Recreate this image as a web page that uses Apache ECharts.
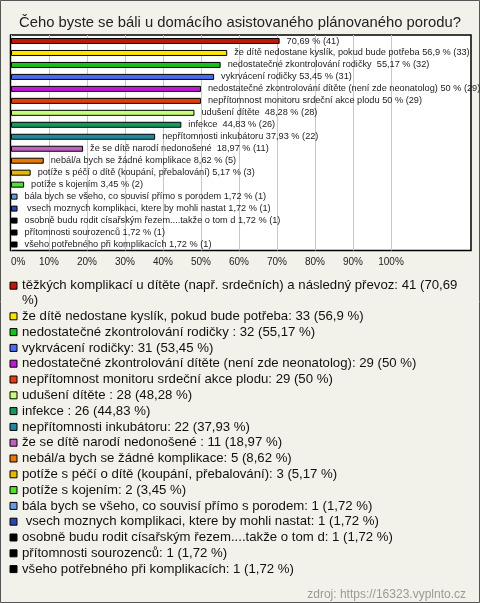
<!DOCTYPE html>
<html><head><meta charset="utf-8">
<script src="https://cdn.jsdelivr.net/npm/echarts@6/dist/echarts.min.js"></script>
<style>html,body{margin:0;padding:0;background:#f3f2ea}#c{width:480px;height:603px}</style>
</head><body><div id="c"></div>
<script>
const titleText = "Čeho byste se báli u domácího asistovaného plánovaného porodu?";
const sourceText = "zdroj: https://16323.vyplnto.cz";
const categories = [
  "těžkých komplikací u dítěte (např. srdečních) a následný převoz",
  "že dítě nedostane kyslík, pokud bude potřeba",
  "nedostatečné zkontrolování rodičky ",
  "vykrvácení rodičky",
  "nedostatečné zkontrolování dítěte (není zde neonatolog)",
  "nepřítomnost monitoru srdeční akce plodu",
  "udušení dítěte ",
  "infekce ",
  "nepřítomnosti inkubátoru",
  "že se dítě narodí nedonošené ",
  "nebál/a bych se žádné komplikace",
  "potíže s péčí o dítě (koupání, přebalování)",
  "potíže s kojením",
  "bála bych se všeho, co souvisí přímo s porodem",
  " vsech moznych komplikaci, ktere by mohli nastat",
  "osobně budu rodit císařským řezem....takže o tom d",
  "přítomnosti sourozenců",
  "všeho potřebného při komplikacích"
];
const barNames = [
  "",
  "že dítě nedostane kyslík, pokud bude potřeba",
  "nedostatečné zkontrolování rodičky ",
  "vykrvácení rodičky",
  "nedostatečné zkontrolování dítěte (není zde neonatolog)",
  "nepřítomnost monitoru srdeční akce plodu",
  "udušení dítěte ",
  "infekce ",
  "nepřítomnosti inkubátoru",
  "že se dítě narodí nedonošené ",
  "nebál/a bych se žádné komplikace",
  "potíže s péčí o dítě (koupání, přebalování)",
  "potíže s kojením",
  "bála bych se všeho, co souvisí přímo s porodem",
  " vsech moznych komplikaci, ktere by mohli nastat",
  "osobně budu rodit císařským řezem....takže o tom d",
  "přítomnosti sourozenců",
  "všeho potřebného při komplikacích"
];
const counts = [41,33,32,31,29,29,28,26,22,11,5,3,2,1,1,1,1,1];
const percents = [70.69,56.9,55.17,53.45,50,50,48.28,44.83,37.93,18.97,8.62,5.17,3.45,1.72,1.72,1.72,1.72,1.72];
const colors = ["#c01808","#ffe400","#18c018","#4a6cf0","#c018d8","#e04008","#c8ff78","#189860","#208898","#c060c0","#e87808","#e8b800","#50e030","#6898e0","#2848b0","#000000","#000000","#000000"];
const xTicks = [0,10,20,30,40,50,60,70,80,90,100];

const pct = p => String(p).replace('.', ',');
const legendName = i => categories[i] + ': ' + counts[i] + ' (' + pct(percents[i]) + ' %)';
const barLabel = i => (barNames[i] ? barNames[i] + ' ' : '') + pct(percents[i]) + ' % (' + counts[i] + ')';
const firstLegend = legendName(0);

const series = categories.map((c, i) => ({
  type: 'bar',
  name: legendName(i),
  stack: 'all',
  barWidth: 6,
  silent: true,
  data: categories.map((_, j) => j === i ? percents[i] : '-'),
  itemStyle: { color: colors[i], borderColor: '#000', borderWidth: 1 },
  label: {
    show: true, position: 'right', distance: 7,
    formatter: barLabel(i),
    fontSize: 9.2, color: '#222', fontFamily: 'Liberation Sans'
  }
}));

const chart = echarts.init(document.getElementById('c'), null, { renderer: 'canvas' });
chart.setOption({
  animation: false,
  backgroundColor: '#f3f2ea',
  title: [
    { text: titleText, left: 'center', top: 10,
      textStyle: { fontSize: 14.8, fontWeight: 'normal', color: '#222', fontFamily: 'Liberation Sans' } },
    { text: sourceText, right: 9, top: 584,
      textStyle: { fontSize: 12, fontWeight: 'normal', color: '#999', fontFamily: 'Liberation Sans' } }
  ],
  grid: [
    { left: 11, top: 35, width: 380, height: 215.5, containLabel: false },
    { left: 10.5, top: 35, width: 460.5, height: 215.5, show: true, backgroundColor: '#fff', borderColor: '#000', borderWidth: 1.5 }
  ],
  xAxis: [
    { type: 'value', gridIndex: 0, min: 0, max: 100, interval: 10,
      axisLine: { show: false }, axisTick: { show: false },
      splitLine: { show: true, lineStyle: { color: '#c8c8c8', width: 1 } },
      axisLabel: { formatter: v => xTicks.includes(v) ? v + '%' : '', fontSize: 10, color: '#222', margin: 7,
        fontFamily: 'Liberation Sans', alignMinLabel: 'left' } },
    { type: 'value', gridIndex: 1, show: false }
  ],
  yAxis: [
    { type: 'category', gridIndex: 0, data: categories, inverse: true, show: false },
    { type: 'category', gridIndex: 1, show: false, data: [] }
  ],
  legend: {
    orient: 'vertical', left: 9.5, top: 263.5, itemGap: 1, padding: 0,
    itemWidth: 7, itemHeight: 7, icon: 'rect', selectedMode: false,
    itemStyle: { borderColor: '#000', borderWidth: 1 },
    formatter: name => name === firstLegend ? '\n' + name.replace(/ %\)$/, '\n%)') : name,
    textStyle: { fontSize: 13.2, color: '#111', fontFamily: 'Liberation Sans', lineHeight: 14.8 },
    data: categories.map((c, i) => legendName(i))
  },
  graphic: [
    { type: 'rect', shape: { x: 0.5, y: 0.5, width: 479, height: 602 },
      style: { fill: 'none', stroke: '#555', lineWidth: 1 }, silent: true }
  ],
  series: series
});
</script>
</body></html>
